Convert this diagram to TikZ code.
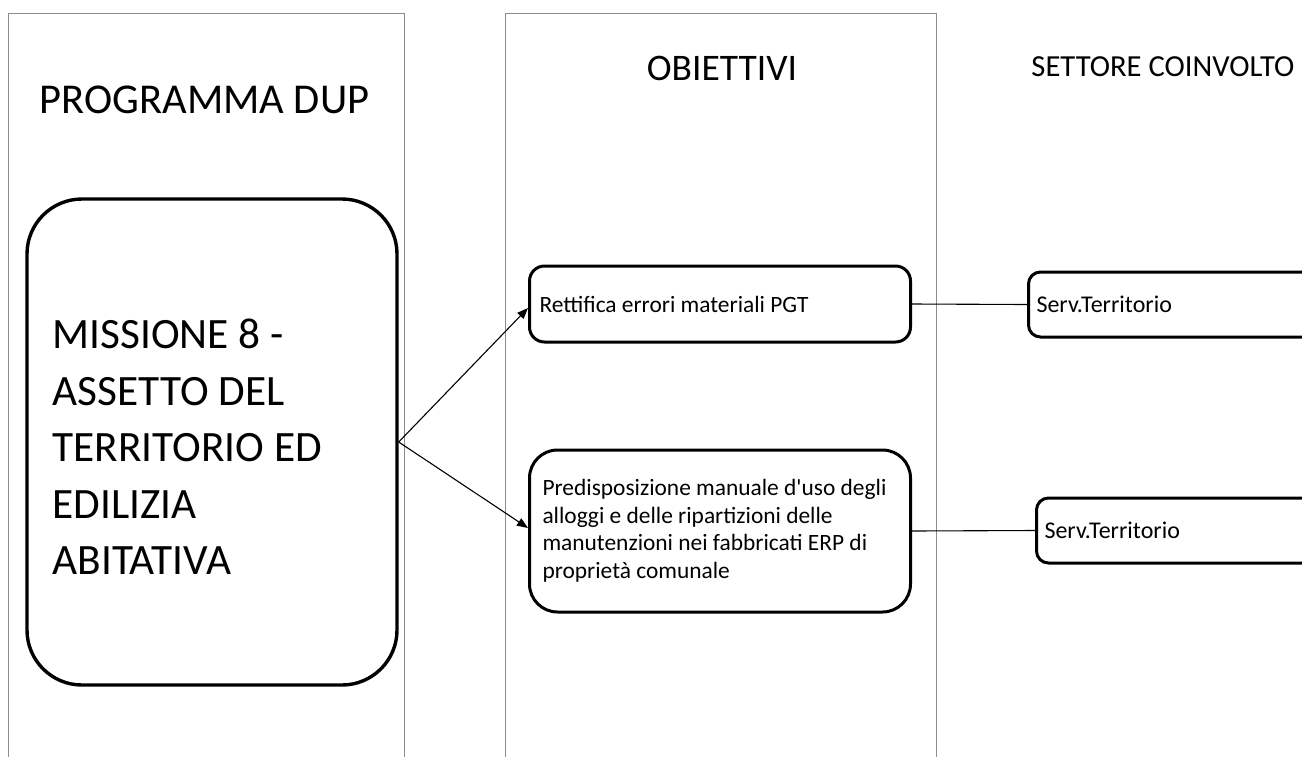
\documentclass[tikz,border=0pt]{standalone}
\usepackage{fontspec}
\setmainfont{Carlito}[Ligatures=TeXOff]
\usetikzlibrary{arrows.meta}
\begin{document}
\begin{tikzpicture}[x=1pt,y=-1pt,
  panel/.style={draw=black!45,line width=0.9pt},
  bigbox/.style={draw,line width=3.4pt,rounded corners=55pt,inner sep=0pt},
  objbox/.style={draw,line width=3pt,align=flush left,anchor=west,font=\fontsize{23.4}{27.5}\selectfont},
  servbox/.style={draw,line width=3pt,rounded corners=12pt,anchor=west,inner xsep=8pt,
    text width=270pt,minimum height=65pt,align=flush left,font=\fontsize{24}{28}\selectfont},
  link/.style={line width=1.1pt},
  arr/.style={line width=1.1pt,-{Triangle[length=11pt,width=8.5pt]}}]
\useasboundingbox (0,0) rectangle (1302,756);
\clip (0,0) rectangle (1302,756);
\fill[white] (0,0) rectangle (1302,756);

% column frames, open at the bottom
\draw[panel] (8.5,770) -- (8.5,13) -- (404.5,13) -- (404.5,770);
\draw[panel] (505.5,770) -- (505.5,13) -- (936.5,13) -- (936.5,770);

% column headings
\node[font=\fontsize{42.5}{50}\selectfont] (hprog) at (204.5,100) {PROGRAMMA DUP};
\node[font=\fontsize{37.5}{44}\selectfont] (hobj) at (722,68) {OBIETTIVI};
\node[font=\fontsize{30.6}{36}\selectfont] (hsett) at (1163,67) {SETTORE COINVOLTO};

% mission box
\node[bigbox,minimum width=370pt,minimum height=486pt] (mission) at (212,442) {};
\node[anchor=west,align=flush left,inner sep=0pt,font=\fontsize{43.3}{56.5}\selectfont] (missiontext) at (52.5,447)
  {MISSIONE 8 -\\ASSETTO DEL\\TERRITORIO ED\\EDILIZIA\\ABITATIVA};

% objectives
\node[objbox,rounded corners=15pt,inner xsep=10pt,text width=361pt,minimum height=76pt] (obj1) at (528,304)
  {Rettifica errori materiali PGT};
\node[objbox,rounded corners=28pt,inner xsep=13pt,text width=355pt,minimum height=162pt] (obj2) at (528,531)
  {Predisposizione manuale d'uso degli\\alloggi e delle ripartizioni delle\\manutenzioni nei fabbricati ERP di\\proprietà comunale};

% sectors involved
\node[servbox] (serv1) at (1027,304.5) {Serv.Territorio};
\node[servbox] (serv2) at (1035,530.5) {Serv.Territorio};

% connectors
\draw[arr] (mission.east) -- ([yshift=-4pt]obj1.west);
\draw[arr] (mission.east) -- ([yshift=3pt]obj2.west);
\draw[link] (obj1.east) -- (serv1.west);
\draw[link] (obj2.east) -- (serv2.west);
\end{tikzpicture}
\end{document}
